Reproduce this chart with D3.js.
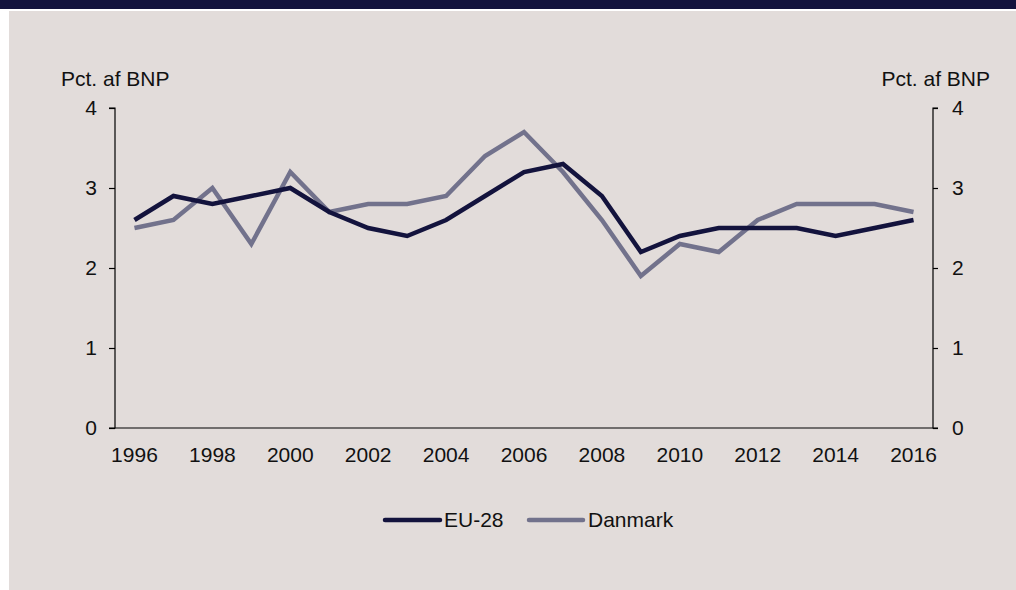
<!DOCTYPE html>
<html>
<head>
<meta charset="utf-8">
<script src="https://cdn.jsdelivr.net/npm/d3@7"></script>
<style>
  html, body { margin: 0; padding: 0; background: #ffffff; }
  svg { display: block; font-family: "Liberation Sans", Arial, sans-serif; }
</style>
</head>
<body>
<svg id="chart" width="1016" height="590"></svg>
<script>
// Research & development spending, percent of GDP
const years = [1996, 1997, 1998, 1999, 2000, 2001, 2002, 2003, 2004, 2005, 2006,
               2007, 2008, 2009, 2010, 2011, 2012, 2013, 2014, 2015, 2016];
const eu28 = [2.6, 2.9, 2.8, 2.9, 3.0, 2.7, 2.5, 2.4, 2.6, 2.9, 3.2,
              3.3, 2.9, 2.2, 2.4, 2.5, 2.5, 2.5, 2.4, 2.5, 2.6];
const danmark = [2.5, 2.6, 3.0, 2.3, 3.2, 2.7, 2.8, 2.8, 2.9, 3.4, 3.7,
                 3.2, 2.6, 1.9, 2.3, 2.2, 2.6, 2.8, 2.8, 2.8, 2.7];
const xTickYears = [1996, 1998, 2000, 2002, 2004, 2006, 2008, 2010, 2012, 2014, 2016];
const yTicks = [0, 1, 2, 3, 4];
const seriesNames = ["EU-28", "Danmark"];
const seriesColors = ["#13133d", "#72728c"];

const svg = d3.select("#chart");

// Frame: dark band on top, tinted panel below
svg.append("rect").attr("x", 0).attr("y", 0).attr("width", 1016).attr("height", 9).attr("fill", "#13133d");
svg.append("rect").attr("x", 9).attr("y", 11).attr("width", 1007).attr("height", 579).attr("fill", "#e2dcda");

const plotLeft = 115, plotRight = 933, plotTop = 108, plotBottom = 428;

const x = d3.scaleBand().domain(years).range([plotLeft, plotRight]);
const xc = d => x(d) + x.bandwidth() / 2;
const y = d3.scaleLinear().domain([0, 4]).range([plotBottom, plotTop]);

const fontSize = 21;

// Left axis
const yLeft = d3.axisLeft(y).tickValues(yTicks).tickSize(6).tickPadding(12).tickFormat(d3.format("d"));
const gL = svg.append("g").attr("transform", `translate(${plotLeft},0)`).call(yLeft);
// Right axis
const yRight = d3.axisRight(y).tickValues(yTicks).tickSize(5).tickPadding(14).tickFormat(d3.format("d"));
const gR = svg.append("g").attr("transform", `translate(${plotRight},0)`).call(yRight);
// Bottom axis (labels only, no tick marks)
const xAxis = d3.axisBottom(x).tickValues(xTickYears).tickSize(0).tickPadding(19).tickFormat(d3.format("d"));
const gX = svg.append("g").attr("transform", `translate(0,${plotBottom})`).call(xAxis);

[gL, gR, gX].forEach(g => {
  g.selectAll(".domain").attr("stroke", "#000").attr("stroke-width", 1.2);
  g.selectAll(".tick line").attr("stroke", "#000").attr("stroke-width", 1.2);
  g.selectAll("text").attr("fill", "#111").style("font-size", fontSize + "px")
    .style("font-family", "'Liberation Sans', Arial, sans-serif");
});
gL.select(".domain").attr("d", `M-6,${plotTop}H0V${plotBottom}H-6`);
gR.select(".domain").attr("d", `M5,${plotTop}H0V${plotBottom}H5`);
gX.select(".domain").attr("d", `M${plotLeft},0H${plotRight}`);

// Axis unit titles
svg.append("text").attr("x", 61).attr("y", 86).attr("font-size", fontSize).attr("fill", "#111").text("Pct. af BNP");
svg.append("text").attr("x", 990).attr("y", 86).attr("text-anchor", "end").attr("font-size", fontSize).attr("fill", "#111").text("Pct. af BNP");

// Series lines (EU-28 drawn last so it sits on top)
const line = d3.line().x((d, i) => xc(years[i])).y(d => y(d));
[[danmark, 1], [eu28, 0]].forEach(([vals, k]) => {
  svg.append("path").datum(vals)
    .attr("d", line)
    .attr("fill", "none")
    .attr("stroke", seriesColors[k])
    .attr("stroke-width", 4.5)
    .attr("stroke-linejoin", "miter");
});

// Legend
const legend = [{x0: 385, x1: 440, tx: 444}, {x0: 529, x1: 583, tx: 588}];
seriesNames.forEach((name, k) => {
  const L = legend[k];
  svg.append("line").attr("x1", L.x0).attr("x2", L.x1).attr("y1", 520).attr("y2", 520)
    .attr("stroke", seriesColors[k]).attr("stroke-width", 4.5).attr("stroke-linecap", "round");
  svg.append("text").attr("x", L.tx).attr("y", 527).attr("font-size", fontSize).attr("fill", "#111").text(name);
});
</script>
</body>
</html>
